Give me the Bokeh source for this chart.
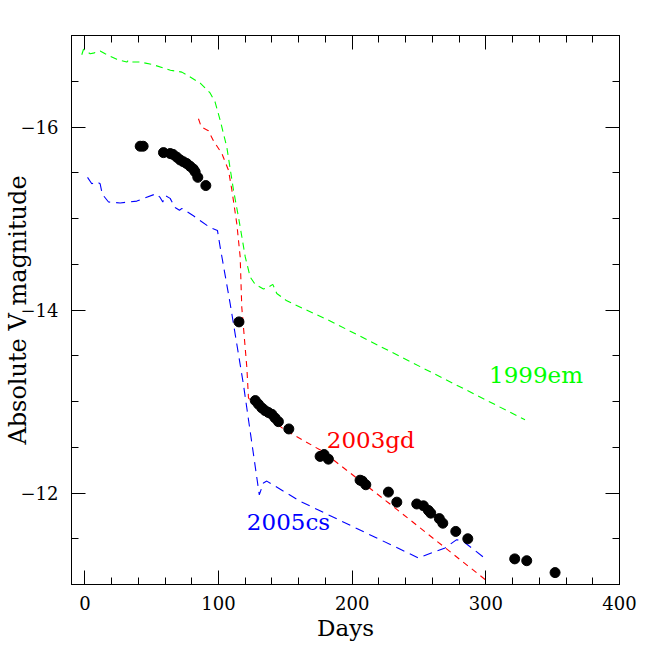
from bokeh.plotting import figure
from bokeh.models import Range1d, LinearAxis, FixedTicker
from bokeh.core.properties import value
from bokeh.embed import file_html
from bokeh.resources import INLINE

# observed points
obs_days = [41.4, 43.6, 58.8, 63.8, 66, 68.8, 71.3, 73.7, 76.3, 78.8,
            81.2, 82.5, 84.5, 90.5, 115.3, 127.5, 129.9, 132.4, 134.9, 137.3,
            139.9, 142.3, 144.8, 152.6, 176, 179, 182.2, 205.9, 207.6, 210.2,
            227.1, 233.4, 248.3, 253.3, 257, 258.8, 265.2, 267.8, 277.5, 286.5,
            321.6, 330.6, 351.8]
obs_mag = [-15.79, -15.79, -15.72, -15.71, -15.70, -15.67, -15.64, -15.62, -15.60, -15.57,
           -15.54, -15.51, -15.45, -15.36, -13.87, -13.01, -12.97, -12.93, -12.90, -12.88,
           -12.86, -12.82, -12.78, -12.70, -12.40, -12.42, -12.37, -12.14, -12.13, -12.09,
           -12.01, -11.90, -11.88, -11.86, -11.81, -11.78, -11.72, -11.67, -11.58, -11.50,
           -11.28, -11.26, -11.13]

# SN 1999em template
em_days = [-2.3, -1, 4, 7, 11.4, 15.2, 23.9, 31.4, 32.6, 35.2, 41.4, 51.3, 64, 72.6,
           86.3, 93.8, 97.5, 101.3, 106.2, 111.2, 115, 120, 123.7, 127.4, 133.6, 137.3,
           140.6, 143.6, 151.1, 183.5, 329.3]
em_mag = [-16.79, -16.85, -16.80, -16.81, -16.83, -16.80, -16.74, -16.71, -16.73, -16.71,
          -16.71, -16.68, -16.62, -16.60, -16.48, -16.37, -16.27, -16.07, -15.78, -15.31,
          -15.01, -14.58, -14.36, -14.28, -14.23, -14.25, -14.28, -14.18, -14.10, -13.88,
          -12.80]

# SN 2003gd template
gd_days = [85, 87.1, 92.4, 96.2, 102.5, 107.4, 110, 113.7, 116.2, 117.4, 121.2, 122.4,
           126.1, 148.5, 177.3, 228.3, 300.7]
gd_mag = [-16.09, -16.00, -15.96, -15.85, -15.71, -15.53, -15.31, -14.94, -14.58, -14.03,
          -13.37, -13.04, -12.97, -12.70, -12.46, -11.88, -11.04]

# SN 2005cs template
cs_days = [2, 5.2, 9, 11.4, 12.7, 13.9, 17.7, 26.4, 38.9, 43.8, 53.3, 56.3, 58.3, 60.1,
           63.8, 67.5, 70.8, 72.6, 81.2, 93.7, 99.2, 101.2, 108.7, 118.6, 130.5, 133.6,
           136.1, 161, 249.5, 269.5, 278.2, 283.2, 298.1]
cs_mag = [-15.45, -15.38, -15.40, -15.38, -15.29, -15.25, -15.18, -15.17, -15.19, -15.22,
          -15.27, -15.23, -15.18, -15.25, -15.22, -15.12, -15.09, -15.11, -15.03, -14.90,
          -14.87, -14.69, -14.07, -13.19, -11.98, -12.11, -12.13, -11.91, -11.29, -11.40,
          -11.49, -11.47, -11.30]

label_names = ["1999em", "2003gd", "2005cs"]
label_x = [302.4, 181.0, 121.2]
label_y = [-13.29, -12.58, -11.68]
label_colors = ["#00ff00", "#ff0000", "#0000ff"]

x_major = [0, 100, 200, 300, 400]
x_minor = [v for v in range(0, 401, 20)]
y_major = [-16, -14, -12]
y_minor = [-17 + 0.5 * i for i in range(13)]
y_tick_labels = {-16: "\u221216", -14: "\u221214", -12: "\u221212"}

FONT = "DejaVu Serif"

p = figure(frame_width=548, frame_height=549, output_backend="svg", toolbar_location=None,
           x_range=Range1d(-10, 400), y_range=Range1d(-11, -17),
           min_border_left=63, min_border_right=20, min_border_top=35, min_border_bottom=50,
           x_axis_location=None, y_axis_location=None)
p.grid.visible = False
p.outline_line_color = "black"
p.outline_line_width = 1
p.background_fill_color = "white"
p.border_fill_color = "white"


def style_axis(ax, ticks, minor, show_labels):
    ax.ticker = FixedTicker(ticks=ticks, minor_ticks=minor)
    ax.major_tick_in = 14
    ax.major_tick_out = 0
    ax.minor_tick_in = 7
    ax.minor_tick_out = 0
    ax.major_tick_line_color = "black"
    ax.minor_tick_line_color = "black"
    ax.axis_line_color = "black"
    ax.major_label_text_font = FONT
    ax.major_label_text_font_size = "18px"
    ax.major_label_text_color = "black"
    ax.axis_label_text_font = FONT
    ax.axis_label_text_font_size = "23px"
    ax.axis_label_text_font_style = "normal"
    ax.axis_label_text_color = "black"
    if not show_labels:
        ax.major_label_text_font_size = "0px"
        ax.major_label_text_alpha = 0
        ax.major_label_standoff = 0


bottom = LinearAxis(axis_label="Days")
style_axis(bottom, x_major, x_minor, True)
bottom.major_label_standoff = 11
bottom.axis_label_standoff = 2
p.add_layout(bottom, "below")

left = LinearAxis(axis_label="Absolute V magnitude")
style_axis(left, y_major, y_minor, True)
left.major_label_overrides = y_tick_labels
left.major_label_standoff = 13
left.axis_label_standoff = -14
left.axis_label_text_font_size = "24px"
p.add_layout(left, "left")

top = LinearAxis()
style_axis(top, x_major, x_minor, False)
p.add_layout(top, "above")

right = LinearAxis()
style_axis(right, y_major, y_minor, False)
p.add_layout(right, "right")

p.line(em_days, em_mag, line_color="#00ff00", line_width=1.1, line_dash="7 5")
p.line(gd_days, gd_mag, line_color="#ff0000", line_width=1.1, line_dash="6 5")
p.line(cs_days, cs_mag, line_color="#0000ff", line_width=1.1, line_dash="9 6")

p.scatter(obs_days, obs_mag, size=10, marker="circle", fill_color="black", line_color="black")

p.text(x=label_x, y=label_y, text=label_names, text_color=label_colors,
       text_font=value(FONT), text_font_size="23px", text_baseline="alphabetic",
       text_align="left")

open("out.html", "w").write(file_html(p, INLINE))
